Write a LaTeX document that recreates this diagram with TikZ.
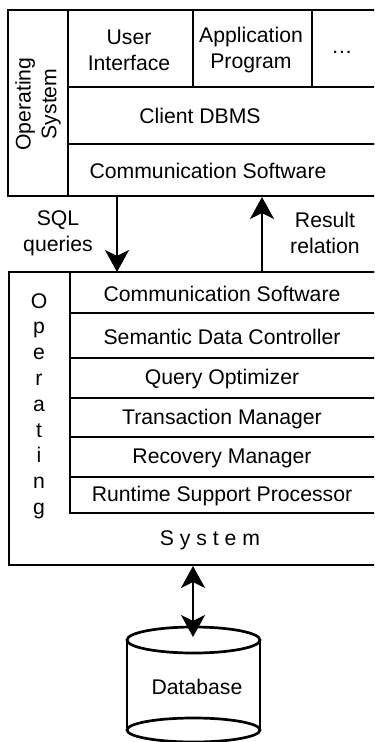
\documentclass[tikz,border=0pt]{standalone}
\usepackage{fontspec}
\setmainfont{Liberation Sans}
\usetikzlibrary{arrows.meta}
\begin{document}
\begin{tikzpicture}[x=0.5pt, y=-0.5pt,
  frame/.style={line width=1.35pt},
  txt/.style={font=\fontsize{10.6}{12.9}\selectfont, inner sep=0pt, align=center},
  flow/.style={line width=1.35pt, -{Stealth[length=11pt, width=12pt, inset=3pt]}}]
\clip (0,0) rectangle (374,742);
% client side
\draw[frame] (8,10) rectangle (420,196);
\draw[frame] (68,10) -- (68,196);
\draw[frame] (68,87) -- (420,87);
\draw[frame] (68,144) -- (420,144);
\draw[frame] (193,10) -- (193,87);
\draw[frame] (312,10) -- (312,87);
\node[txt, rotate=90] (cos) at (38,104) {Operating\\System};
\node[txt] (cui) at (129,50) {User\\Interface};
\node[txt] (cap) at (251,50) {Application\\Program};
\node[txt] (cdots) at (342,52) {\dots};
\node[txt] (cdbms) at (200,116) {Client DBMS};
\node[txt] (ccom) at (208,171) {Communication Software};
% server side
\draw[frame] (9,272) rectangle (420,565);
\draw[frame] (70,272) -- (70,513) -- (420,513);
\draw[frame] (70,313) -- (420,313);
\draw[frame] (70,358) -- (420,358);
\draw[frame] (70,398) -- (420,398);
\draw[frame] (70,437) -- (420,437);
\draw[frame] (70,477) -- (420,477);
\node[txt] (sos) at (39,406) {O\\p\\e\\r\\a\\t\\i\\n\\g};
\node[txt] (scom) at (222,294) {Communication Software};
\node[txt] (ssdc) at (222,337) {Semantic Data Controller};
\node[txt] (sqo) at (222,379) {Query Optimizer};
\node[txt] (stm) at (222,419) {Transaction Manager};
\node[txt] (srm) at (222,458) {Recovery Manager};
\node[txt] (srsp) at (222,496) {Runtime Support Processor};
\node[txt] (ssys) at (210,540) {S y s t e m};
% database
\draw[frame] (193.5,640) ellipse [x radius=33.25pt, y radius=6.5pt];
\draw[frame] (127,640) -- (127,730);
\draw[frame] (260,640) -- (260,730);
\draw[frame] (193.5,730) ellipse [x radius=33.25pt, y radius=6pt];
\node[txt] (db) at (197,687) {Database};
% connectors
\coordinate (sqlA) at (117,196);
\coordinate (sqlB) at (117,272);
\coordinate (resA) at (262,272);
\coordinate (resB) at (262,197);
\coordinate (dbA) at (193,566);
\coordinate (dbB) at (193,637);
\draw[flow] (sqlA) -- (sqlB);
\draw[flow] (resA) -- (resB);
\draw[flow, {Stealth[length=11pt, width=12pt, inset=3pt]}-{Stealth[length=11pt, width=12pt, inset=3pt]}] (dbA) -- (dbB);
\node[txt] (lsql) at (58,233) {SQL\\queries};
\node[txt] (lres) at (325,233) {Result\\relation};
\end{tikzpicture}
\end{document}
